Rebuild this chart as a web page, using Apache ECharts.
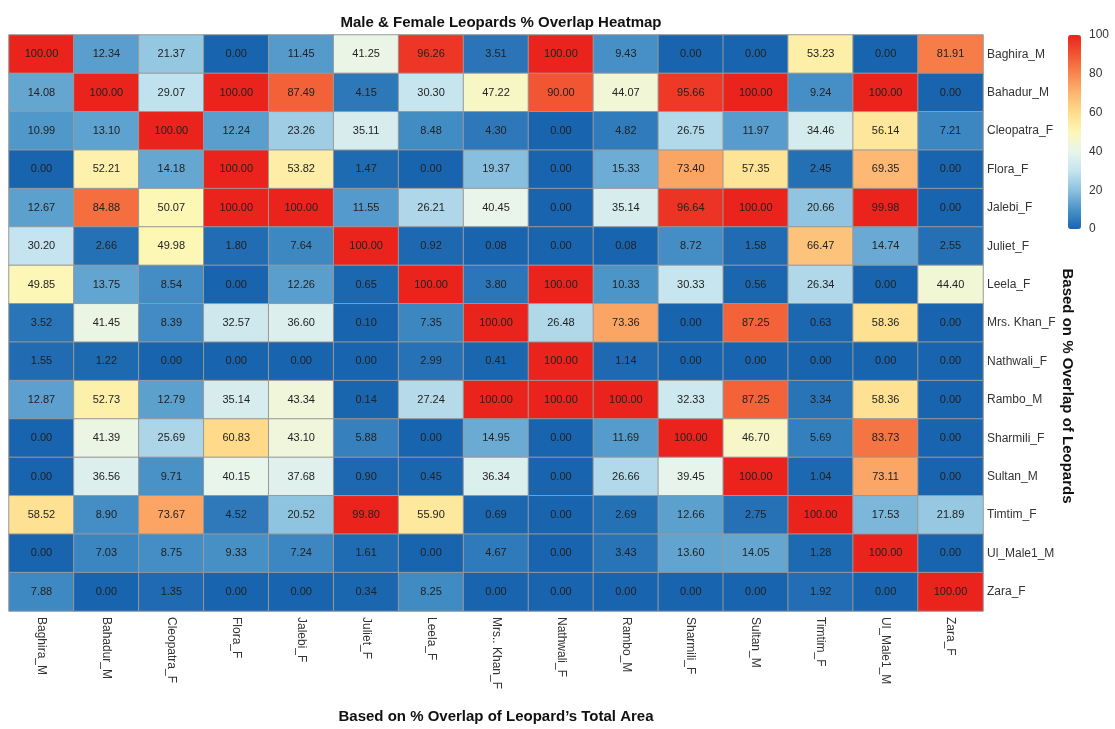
<!DOCTYPE html>
<html>
<head>
<meta charset="utf-8">
<script src="https://cdn.jsdelivr.net/npm/echarts@6/dist/echarts.min.js"></script>
<style>
  html, body { margin: 0; padding: 0; background: #fff; }
  #main { width: 1115px; height: 729px; }
</style>
</head>
<body>
<div id="main"></div>
<script>
// columns (x) and rows (y), rows drawn top to bottom
var xNames = ['Baghira_M', 'Bahadur_M', 'Cleopatra_F', 'Flora_F', 'Jalebi_F', 'Juliet_F', 'Leela_F',
  'Mrs.. Khan_F', 'Nathwali_F', 'Rambo_M', 'Sharmili_F', 'Sultan_M', 'Timtim_F', 'Ul_Male1_M', 'Zara_F']
var yNames = ['Baghira_M', 'Bahadur_M', 'Cleopatra_F', 'Flora_F', 'Jalebi_F', 'Juliet_F', 'Leela_F',
  'Mrs. Khan_F', 'Nathwali_F', 'Rambo_M', 'Sharmili_F', 'Sultan_M', 'Timtim_F', 'Ul_Male1_M', 'Zara_F']

var baghira = [100.00, 12.34, 21.37, 0.00, 11.45, 41.25, 96.26, 3.51, 100.00, 9.43, 0.00, 0.00, 53.23, 0.00, 81.91]
var bahadur = [14.08, 100.00, 29.07, 100.00, 87.49, 4.15, 30.30, 47.22, 90.00, 44.07, 95.66, 100.00, 9.24, 100.00, 0.00]
var cleopatra = [10.99, 13.10, 100.00, 12.24, 23.26, 35.11, 8.48, 4.30, 0.00, 4.82, 26.75, 11.97, 34.46, 56.14, 7.21]
var flora = [0.00, 52.21, 14.18, 100.00, 53.82, 1.47, 0.00, 19.37, 0.00, 15.33, 73.40, 57.35, 2.45, 69.35, 0.00]
var jalebi = [12.67, 84.88, 50.07, 100.00, 100.00, 11.55, 26.21, 40.45, 0.00, 35.14, 96.64, 100.00, 20.66, 99.98, 0.00]
var juliet = [30.20, 2.66, 49.98, 1.80, 7.64, 100.00, 0.92, 0.08, 0.00, 0.08, 8.72, 1.58, 66.47, 14.74, 2.55]
var leela = [49.85, 13.75, 8.54, 0.00, 12.26, 0.65, 100.00, 3.80, 100.00, 10.33, 30.33, 0.56, 26.34, 0.00, 44.40]
var mrsKhan = [3.52, 41.45, 8.39, 32.57, 36.60, 0.10, 7.35, 100.00, 26.48, 73.36, 0.00, 87.25, 0.63, 58.36, 0.00]
var nathwali = [1.55, 1.22, 0.00, 0.00, 0.00, 0.00, 2.99, 0.41, 100.00, 1.14, 0.00, 0.00, 0.00, 0.00, 0.00]
var rambo = [12.87, 52.73, 12.79, 35.14, 43.34, 0.14, 27.24, 100.00, 100.00, 100.00, 32.33, 87.25, 3.34, 58.36, 0.00]
var sharmili = [0.00, 41.39, 25.69, 60.83, 43.10, 5.88, 0.00, 14.95, 0.00, 11.69, 100.00, 46.70, 5.69, 83.73, 0.00]
var sultan = [0.00, 36.56, 9.71, 40.15, 37.68, 0.90, 0.45, 36.34, 0.00, 26.66, 39.45, 100.00, 1.04, 73.11, 0.00]
var timtim = [58.52, 8.90, 73.67, 4.52, 20.52, 99.80, 55.90, 0.69, 0.00, 2.69, 12.66, 2.75, 100.00, 17.53, 21.89]
var ulMale1 = [0.00, 7.03, 8.75, 9.33, 7.24, 1.61, 0.00, 4.67, 0.00, 3.43, 13.60, 14.05, 1.28, 100.00, 0.00]
var zara = [7.88, 0.00, 1.35, 0.00, 0.00, 0.34, 8.25, 0.00, 0.00, 0.00, 0.00, 0.00, 1.92, 0.00, 100.00]

var rows = [baghira, bahadur, cleopatra, flora, jalebi, juliet, leela, mrsKhan,
  nathwali, rambo, sharmili, sultan, timtim, ulMale1, zara]

var legendTicks = [0, 20, 40, 60, 80, 100]

var cells = []
rows.forEach(function (row, yi) {
  row.forEach(function (v, xi) {
    cells.push([xi, yi, v])
  })
})

var chart = echarts.init(document.getElementById('main'))
var font = 'Arial, "Liberation Sans", sans-serif'

var option = {
  backgroundColor: '#fff',
  animation: false,
  textStyle: { fontFamily: font },
  title: {
    text: 'Male & Female Leopards % Overlap Heatmap',
    left: 496,
    top: 10,
    textAlign: 'center',
    textStyle: { fontSize: 15, fontWeight: 'bold', color: '#111', fontFamily: font }
  },
  grid: [
    { left: 9, top: 35, width: 974, height: 583 },
    // holder for the colour bar tick labels
    { left: 1068, top: 35, width: 13, height: 194 }
  ],
  xAxis: [
    {
      type: 'category',
      gridIndex: 0,
      data: xNames,
      position: 'bottom',
      axisLine: { show: false },
      axisTick: { show: false },
      splitLine: { show: false },
      axisLabel: { rotate: -90, margin: 6, fontSize: 12, color: '#333', fontFamily: font },
      name: 'Based on % Overlap of Leopard\u2019s Total Area',
      nameLocation: 'middle',
      nameGap: 98,
      nameTextStyle: { fontSize: 15, fontWeight: 'bold', color: '#111', fontFamily: font }
    },
    {
      type: 'value', gridIndex: 1, show: false, min: 0, max: 1
    }
  ],
  yAxis: [
    {
      type: 'category',
      gridIndex: 0,
      data: yNames,
      inverse: true,
      position: 'right',
      axisLine: { show: false },
      axisTick: { show: false },
      splitLine: { show: false },
      axisLabel: { margin: 4, fontSize: 12, color: '#333', fontFamily: font }
    },
    {
      type: 'value',
      gridIndex: 1,
      min: 0,
      max: 100,
      interval: 20,
      position: 'right',
      axisLine: { show: false },
      axisTick: { show: false },
      splitLine: { show: false },
      axisLabel: {
        margin: 8, fontSize: 12, color: '#333', fontFamily: font,
        formatter: function (v) { return legendTicks.indexOf(v) >= 0 ? String(v) : '' }
      }
    }
  ],
  visualMap: {
    type: 'continuous',
    min: 0,
    max: 100,
    seriesIndex: 0,
    calculable: false,
    left: 1068,
    top: 35,
    padding: 0,
    itemWidth: 13,
    itemHeight: 194,
    showLabel: false,
    inRange: {
      color: ['#1864ae', '#4a93c8', '#8cc2df', '#c5e4ef', '#e8f5ec', '#fdf7b6',
        '#fedd8c', '#fdb571', '#f8864d', '#f15532', '#ea231d']
    }
  },
  graphic: [
    {
      type: 'text',
      x: 1067,
      y: 386,
      rotation: -Math.PI / 2,
      style: {
        text: 'Based on % Overlap of Leopards',
        font: 'bold 15px ' + font,
        fill: '#111',
        align: 'center',
        verticalAlign: 'middle'
      }
    }
  ],
  series: [
    {
      type: 'heatmap',
      xAxisIndex: 0,
      yAxisIndex: 0,
      data: cells,
      label: {
        show: true,
        fontSize: 11,
        color: '#222',
        fontFamily: font,
        formatter: function (p) { return p.value[2].toFixed(2) }
      },
      itemStyle: { borderColor: '#999', borderWidth: 1 },
      emphasis: { disabled: true }
    }
  ]
}

option && chart.setOption(option)
window.onresize = function () {
  chart.resize()
}
</script>
</body>
</html>
